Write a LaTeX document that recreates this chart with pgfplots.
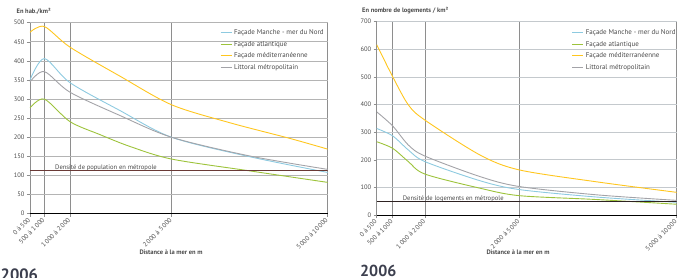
\documentclass[border=0pt]{standalone}
\usepackage{fontspec}
\setmainfont{PT Sans}
\usepackage{pgfplots}
\pgfplotsset{compat=1.18}
\definecolor{cblue}{HTML}{8DCAE0}
\definecolor{cgreen}{HTML}{9DC33B}
\definecolor{cyellow}{HTML}{FFC61E}
\definecolor{cgrey}{HTML}{A3A3A8}
\definecolor{txt}{HTML}{4A4A4A}
\definecolor{vgrid}{HTML}{8E8E8E}
\definecolor{hgrid}{HTML}{B4B4B4}
\definecolor{hgridr}{HTML}{C4C9CD}
\definecolor{refl}{HTML}{6A3A36}
\definecolor{refr}{HTML}{2E2222}
\definecolor{yearc}{HTML}{3C3F4E}
\pgfplotsset{
  legend image code/.code={\draw[#1, line width=0.9pt, sharp plot] (0bp,0bp) -- (11bp,0bp);},
  common/.style={
    scale only axis, anchor=south west,
    ymin=0, xmin=0,
    axis x line=bottom, axis y line=left,
    axis line style={-},
    y axis line style={draw=none},
    x axis line style={black, line width=0.9pt},
    tick align=outside, major tick length=3bp,
    tick style={vgrid, line width=0.6pt},
    xmajorgrids, ymajorgrids,
    x grid style={vgrid, line width=0.9pt},
    /pgf/number format/assume math mode=true,
    yticklabel style={font=\fontsize{6.5}{7}\selectfont, text=txt, xshift=1bp},
    xticklabel style={font=\fontsize{6.6}{7}\selectfont, text=txt, rotate=45, anchor=east, xshift=1bp, yshift=-1bp},
    legend style={draw=none, fill=none, inner sep=0pt, font=\fontsize{7}{8}\selectfont, text=txt,
      row sep=1bp, anchor=north west},
    legend cell align=left,
  }
}
\begin{document}
\begin{tikzpicture}
\useasboundingbox (0,0) rectangle (692bp,-278bp);
% ---------- left chart ----------
\begin{axis}[common,
  at={(30bp,-213.7bp)}, width=297.7bp, height=191bp,
  xmax=297.7, ymax=500,
  ytick={0,50,...,500},
  y grid style={hgrid, line width=0.8pt},
  xtick={0,14.3,40,141.7,297.7},
  xticklabels={{0 à 500},{500 à 1\,000},{1\,000 à 2\,000},{2\,000 à 5\,000},{5\,000 à 10\,000}},
  legend style={at={(0.638,0.975)}},
]
\addplot[cblue, line width=0.9pt, smooth, tension=0.5] coordinates {(0,350) (14.3,406) (40,343) (90,270) (141.7,200) (220,149) (297.7,108)};
\addlegendentry{Façade Manche - mer du Nord}
\addplot[cgreen, line width=0.9pt, smooth, tension=0.5] coordinates {(0,277) (14.3,300) (40,241) (70,207) (100,176) (141.7,143) (220,112) (297.7,82)};
\addlegendentry{Façade atlantique}
\addplot[cyellow, line width=0.9pt, smooth, tension=0.5] coordinates {(0,475) (14.3,490) (40,436) (90,360) (141.7,285) (200,238) (260,197) (297.7,169)};
\addlegendentry{Façade méditerranéenne}
\addplot[cgrey, line width=0.9pt, smooth, tension=0.5] coordinates {(0,345) (14.3,372) (40,318) (90,257) (141.7,200) (220,151) (297.7,116)};
\addlegendentry{Littoral métropolitain}
\addplot[refl, line width=1pt, forget plot] coordinates {(0,113) (297.7,113)};
\node[anchor=base west, inner sep=0pt, font=\fontsize{6.6}{7}\selectfont, text=txt] at (axis cs:25,115) {Densité de population en métropole};
\end{axis}
% ---------- right chart ----------
\begin{axis}[common,
  at={(376.7bp,-215.3bp)}, width=300bp, height=193.6bp,
  xmax=300, ymax=700,
  ytick={0,100,...,700},
  y grid style={hgridr, line width=1pt},
  xtick={0,16,48.3,142.7,300},
  xticklabels={{0 à 500},{500 à 1\,000},{1\,000 à 2\,000},{2\,000 à 5\,000},{5\,000 à 10\,000}},
  legend style={at={(0.65,0.97)}},
]
\addplot[cblue, line width=0.9pt, smooth, tension=0.5] coordinates {(0,314) (16,287) (31.7,236) (48.3,194) (103.3,125) (142.7,93) (220,66) (300,47)};
\addlegendentry{Façade Manche - mer du Nord}
\addplot[cgreen, line width=0.9pt, smooth, tension=0.5] coordinates {(0,266) (16,242) (31.7,194) (48.3,149) (103.3,98) (142.7,71) (220,57) (300,40)};
\addlegendentry{Façade atlantique}
\addplot[cyellow, line width=0.9pt, smooth, tension=0.5] coordinates {(0,617) (16,501) (31.7,399) (48.3,344) (103.3,218) (142.7,164) (220,121) (300,83)};
\addlegendentry{Façade méditerranéenne}
\addplot[cgrey, line width=0.9pt, smooth, tension=0.5] coordinates {(0,374) (16,323) (31.7,254) (48.3,214) (103.3,140) (142.7,104) (220,74) (300,54)};
\addlegendentry{Littoral métropolitain}
\addplot[refr, line width=1pt, forget plot] coordinates {(0,51) (300,51)};
\node[anchor=base west, inner sep=0pt, font=\fontsize{6.6}{7}\selectfont, text=txt] at (axis cs:26,53) {Densité de logements en métropole};
\end{axis}
% ---------- titles ----------
\node[anchor=west, inner sep=0pt, font=\bfseries\fontsize{6.5}{7}\selectfont, text=txt] at (16.5bp,-11bp) {En hab./km²};
\node[anchor=west, inner sep=0pt, font=\bfseries\fontsize{6.5}{7}\selectfont, text=txt] at (362bp,-11bp) {En nombre de logements / km²};
\node[inner sep=0pt, font=\bfseries\fontsize{6.5}{7}\selectfont, text=txt] at (171bp,-252bp) {Distance à la mer en m};
\node[inner sep=0pt, font=\bfseries\fontsize{6.5}{7}\selectfont, text=txt] at (518bp,-252bp) {Distance à la mer en m};
\node[anchor=north west, inner sep=0pt, font=\bfseries\fontsize{16.5}{18}\selectfont, text=yearc] at (0.5bp,-268.5bp) {2006};
\node[anchor=north west, inner sep=0pt, font=\bfseries\fontsize{16}{18}\selectfont, text=yearc] at (360bp,-264.5bp) {2006};
\end{tikzpicture}
\end{document}
